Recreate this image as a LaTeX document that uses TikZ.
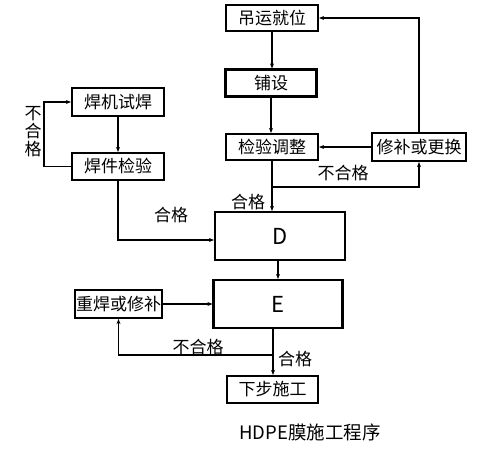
\documentclass[tikz,border=0pt]{standalone}
\usepackage{fontspec}
\setmainfont{Noto Sans CJK SC}
\usetikzlibrary{arrows.meta}
\begin{document}
\begin{tikzpicture}[x=1pt,y=-1pt,
  box/.style={draw,line width=2.2pt,inner sep=0pt,font=\fontsize{17}{19}\selectfont},
  bigbox/.style={draw,line width=2.2pt,inner sep=0pt,font=\fontsize{22}{24}\selectfont},
  conn/.style={line width=1.2pt},
  arr/.style={conn,-{Stealth[length=5pt,width=4pt]}},
  lbl/.style={inner sep=0pt,font=\fontsize{17}{19}\selectfont}]
\useasboundingbox (0,0) rectangle (485,450);
% boxes
\node[box,minimum width=92pt,minimum height=26pt] (diao) at (272,18) {吊运就位};
\node[box,minimum width=91pt,minimum height=27pt] (pushe) at (271,83) {铺设};
\node[box,minimum width=92pt,minimum height=26pt] (jianyan) at (272,147) {检验调整};
\node[box,minimum width=94pt,minimum height=28pt] (xiubu) at (419,147) {修补或更换};
\node[bigbox,minimum width=130pt,minimum height=48pt] (D) at (280,236) {D};
\node[bigbox,minimum width=129pt,minimum height=48pt] (E) at (278,304) {E};
\node[box,minimum width=87pt,minimum height=28pt] (chonghan) at (118.5,304) {重焊或修补};
\node[box,minimum width=91pt,minimum height=27pt] (xiabu) at (272.5,389.5) {下步施工};
\node[box,minimum width=92pt,minimum height=28pt] (hanji) at (118,102) {焊机试焊};
\node[box,minimum width=92pt,minimum height=27pt] (hanjian) at (118,166.5) {焊件检验};
% coordinates
\coordinate (b1) at (272,187);
\coordinate (b2) at (273,355);
\coordinate (lp) at (44,166.5);
% connectors
\draw[arr] (diao.south) -- (diao.south |- pushe.north);
\draw[arr] (pushe.south) -- (pushe.south |- jianyan.north);
\draw[arr] (jianyan.south) -- (jianyan.south |- D.north);
\draw[arr] (b1) -| (xiubu.south);
\draw[arr] (xiubu.west) -- (jianyan.east);
\draw[arr] (xiubu.north) |- (diao.east);
\draw[arr] (hanji.south) -- (hanjian.north);
\draw[conn] (hanjian.west) -- (lp);
\draw[arr] (lp) |- (hanji.west);
\draw[arr] (hanjian.south) |- ([yshift=-4pt]D.west);
\draw[arr] (E.north |- D.south) -- (E.north);
\draw[arr] (chonghan.east) -- (E.west);
\draw[arr] (b2 |- E.south) -- (b2 |- xiabu.north);
\draw[arr] (b2) -| (chonghan.south);
% labels
\node[lbl,align=center,font=\fontsize{17}{18}\selectfont] (l1) at (33,132) {不\\合\\格};
\node[lbl] (l2) at (171,215) {合格};
\node[lbl] (l3) at (343,173) {不合格};
\node[lbl] (l4) at (248,202) {合格};
\node[lbl] (l5) at (198,347) {不合格};
\node[lbl] (l6) at (295,359) {合格};
\node[lbl,font=\fontsize{18.5}{20}\selectfont] (cap) at (310,432) {HDPE膜施工程序};
\end{tikzpicture}
\end{document}
